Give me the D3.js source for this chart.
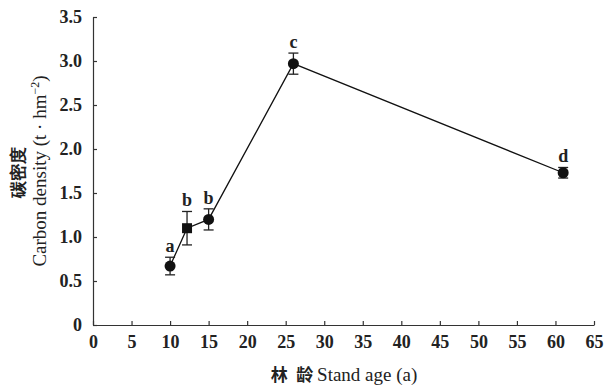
<!DOCTYPE html>
<html lang="zh">
<head>
<meta charset="UTF-8">
<title>Carbon density by stand age</title>
<script src="https://d3js.org/d3.v7.min.js"></script>
<style>
  body { margin: 0; background: #fff; }
  text { font-family: "Liberation Serif", "Times New Roman", serif; fill: #222; }
</style>
</head>
<body>
<svg id="chart" width="605" height="388"></svg>
<script>
// data
const standAge = [10, 12.2, 15, 26, 61];
const carbonDensity = [0.67, 1.10, 1.20, 2.97, 1.73];
const errBar = [0.10, 0.19, 0.12, 0.12, 0.06];
const sigLetters = ["a", "b", "b", "c", "d"];
const markerShape = ["circle", "square", "circle", "circle", "circle"];
const xTicks = d3.range(0, 66, 5);
const yTicks = [0, 0.5, 1.0, 1.5, 2.0, 2.5, 3.0, 3.5];

const svg = d3.select("#chart");
const mLeft = 93, mRight = 594, mTop = 17, mBottom = 325;

const x = d3.scaleLinear().domain([0, 65]).range([mLeft, mRight]);
const y = d3.scaleLinear().domain([0, 3.5]).range([mBottom, mTop]);

// axes, ticks pointing inward
const xAxis = svg.append("g")
  .attr("transform", `translate(0,${mBottom})`)
  .call(d3.axisBottom(x).tickValues(xTicks).tickSize(-4).tickPadding(10).tickSizeOuter(0));
const yAxis = svg.append("g")
  .attr("transform", `translate(${mLeft},0)`)
  .call(d3.axisLeft(y).tickValues(yTicks).tickFormat(d3.format(".1f")).tickSize(-4).tickPadding(11).tickSizeOuter(0));
yAxis.select(".tick text").text("0");

[xAxis, yAxis].forEach(g => {
  g.select(".domain").attr("stroke", "#333").attr("stroke-width", 1.2);
  g.selectAll(".tick line").attr("stroke", "#333").attr("stroke-width", 1.2);
  g.selectAll(".tick text")
    .attr("font-family", "Liberation Serif")
    .attr("font-size", 18)
    .attr("font-weight", "bold")
    .attr("fill", "#222");
});

const pts = standAge.map((a, i) => ({ a, v: carbonDensity[i], e: errBar[i], lab: sigLetters[i], shape: markerShape[i] }));

// connecting line
svg.append("path")
  .attr("d", d3.line().x(d => x(d.a)).y(d => y(d.v))(pts))
  .attr("fill", "none")
  .attr("stroke", "#111")
  .attr("stroke-width", 1.3);

// error bars
const eb = svg.append("g").attr("stroke", "#222").attr("stroke-width", 1.3);
pts.forEach(d => {
  const cx = x(d.a);
  eb.append("line").attr("x1", cx).attr("x2", cx).attr("y1", y(d.v - d.e)).attr("y2", y(d.v + d.e));
  [d.v - d.e, d.v + d.e].forEach(v => {
    eb.append("line").attr("x1", cx - 5).attr("x2", cx + 5).attr("y1", y(v)).attr("y2", y(v));
  });
});

// markers
svg.append("g").selectAll("path")
  .data(pts)
  .join("path")
  .attr("transform", d => `translate(${x(d.a)},${y(d.v)})`)
  .attr("d", d => d3.symbol().type(d.shape === "square" ? d3.symbolSquare : d3.symbolCircle).size(d.shape === "square" ? 100 : 95)())
  .attr("fill", "#111");

// significance letters
svg.append("g").selectAll("text")
  .data(pts)
  .join("text")
  .attr("x", d => x(d.a))
  .attr("y", d => y(d.v + d.e) - 5)
  .attr("text-anchor", "middle")
  .attr("font-size", 18)
  .attr("font-weight", "bold")
  .text(d => d.lab);

// axis titles
const xt = svg.append("text")
  .attr("x", 344)
  .attr("y", 381)
  .attr("text-anchor", "middle")
  .attr("font-size", 19);
xt.append("tspan").attr("font-family", "Noto Sans CJK SC").attr("font-weight", "bold").attr("font-size", 17).text("林\u2002龄 ");
xt.append("tspan").text("Stand age (a)");

svg.append("text")
  .attr("transform", "translate(24,172) rotate(-90)")
  .attr("text-anchor", "middle")
  .attr("font-family", "Noto Sans CJK SC")
  .attr("font-weight", "bold")
  .attr("font-size", 17)
  .text("碳密度");

const yt = svg.append("text")
  .attr("transform", "translate(46,171) rotate(-90)")
  .attr("text-anchor", "middle")
  .attr("font-size", 19);
yt.append("tspan").text("Carbon density (t \u00b7 hm");
yt.append("tspan").attr("dy", -7).attr("font-size", 12).text("\u22122");
yt.append("tspan").attr("dy", 7).text(")");
</script>
</body>
</html>
